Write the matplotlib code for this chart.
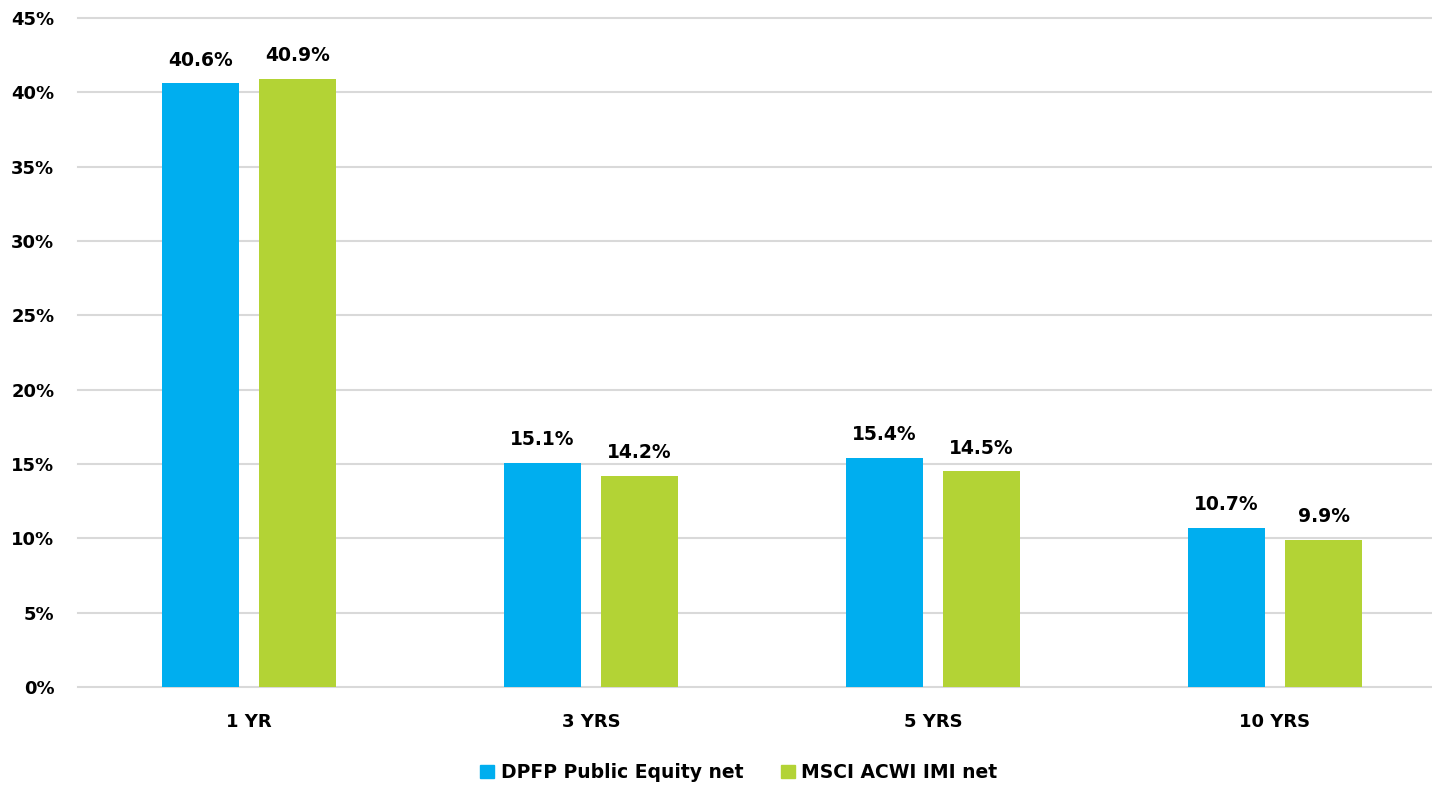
import numpy as np
import matplotlib.pyplot as plt
from matplotlib.patches import Patch

categories = ['1 YR', '3 YRS', '5 YRS', '10 YRS']
dpfp = [40.6, 15.1, 15.4, 10.7]
msci = [40.9, 14.2, 14.5, 9.9]
series_names = ['DPFP Public Equity net', 'MSCI ACWI IMI net']
yticks = [0, 5, 10, 15, 20, 25, 30, 35, 40, 45]

blue = '#00AEEF'
green = '#B3D335'

plt.rcParams['font.family'] = ['DejaVu Sans']
plt.rcParams['font.weight'] = 'bold'

fig = plt.figure(figsize=(14.32, 7.85), dpi=100)
ax = fig.add_axes([78/1432, 98/785, 1368/1432, 669/785])

x = np.arange(len(categories))
w = 0.225
off = 0.142
b1 = ax.bar(x - off, dpfp, w, color=blue, zorder=3)
b2 = ax.bar(x + off, msci, w, color=green, zorder=3)

for bars, vals in ((b1, dpfp), (b2, msci)):
    for r, v in zip(bars, vals):
        ax.annotate(f'{v:.1f}%', (r.get_x() + r.get_width()/2, v),
                    xytext=(0, 10), textcoords='offset points',
                    ha='center', va='bottom', fontsize=13.5, fontweight='bold')

ax.set_xlim(-0.5, len(categories) - 0.5)
ax.set_ylim(0, 45)
ax.set_yticks(yticks)
ax.set_yticklabels([f'{t}%' for t in yticks])
ax.set_xticks(x)
ax.set_xticklabels(categories)
ax.tick_params(axis='y', length=0, pad=17, labelsize=13)
ax.tick_params(axis='x', length=0, pad=19, labelsize=13)
for lab in ax.get_xticklabels() + ax.get_yticklabels():
    lab.set_fontweight('bold')

ax.grid(axis='y', color='#d9d9d9', linewidth=1.5, zorder=0)
for gl in ax.get_ygridlines():
    gl.set_clip_on(False)
for s in ax.spines.values():
    s.set_visible(False)

handles = [Patch(color=blue), Patch(color=green)]
fig.legend(handles, series_names, loc='center', bbox_to_anchor=(0.516, 0.016),
           ncol=2, frameon=False, handlelength=0.75, handleheight=0.75,
           handletextpad=0.35, columnspacing=2.0,
           prop={'weight': 'bold', 'size': 13.5})

fig.savefig('out.png', dpi=100)
